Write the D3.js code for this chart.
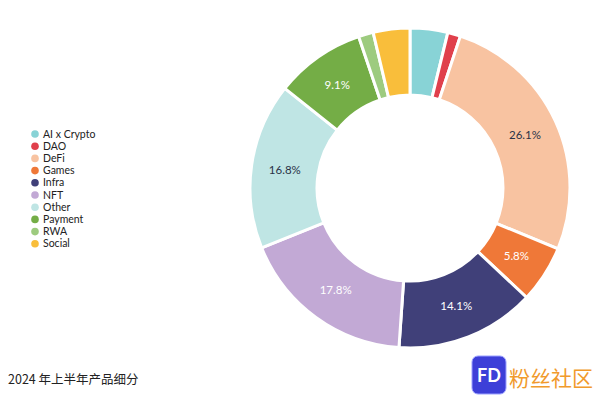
<!DOCTYPE html>
<html>
<head>
<meta charset="utf-8">
<script src="https://cdn.jsdelivr.net/npm/d3@7"></script>
<style>
  body { margin: 0; background: #fff; }
  svg text { font-family: Lato, "Noto Sans", sans-serif; }
</style>
</head>
<body>
<div id="viz"></div>
<script>
// slice names, values (percent) and colours
const categories = ["AI x Crypto", "DAO", "DeFi", "Games", "Infra", "NFT", "Other", "Payment", "RWA", "Social"];
const values = [3.8, 1.3, 26.1, 5.8, 14.1, 17.8, 16.8, 9.1, 1.5, 3.7];
const colors = ["#88d3d6", "#e0404c", "#f8c3a1", "#ef7838", "#404079", "#c2a9d5", "#bfe5e4", "#74ad46", "#9dcb7f", "#f9be3b"];
const labelColors = ["#fff", "#fff", "#2a3347", "#fff", "#fff", "#fff", "#2a3347", "#fff", "#fff", "#fff"];
const title = "2024 年上半年产品细分";

const width = 600, height = 399;
const cx = 410, cy = 188, outerR = 160, innerR = 93;

const svg = d3.select("#viz")
    .append("svg")
    .attr("width", width)
    .attr("height", height);

const data = categories.map((c, i) => ({ name: c, value: values[i], color: colors[i], lc: labelColors[i] }));

const pie = d3.pie()
    .value((d) => d.value)
    .sort(null);

const arc = d3.arc()
    .innerRadius(innerR)
    .outerRadius(outerR);

const g = svg.append("g")
    .attr("transform", `translate(${cx},${cy})`);

const arcs = pie(data);

g.selectAll("path")
    .data(arcs)
    .enter()
    .append("path")
    .attr("d", arc)
    .attr("fill", (d) => d.data.color)
    .attr("stroke", "#fff")
    .attr("stroke-width", 3);

// only the bigger slices get a label
g.selectAll(".lbl")
    .data(arcs.filter((d) => d.data.value >= 5))
    .enter()
    .append("text")
    .attr("class", "lbl")
    .attr("transform", (d) => `translate(${arc.centroid(d)})`)
    .attr("text-anchor", "middle")
    .attr("dy", "0.35em")
    .attr("font-size", 11.5)
    .attr("fill", (d) => d.data.lc)
    .text((d) => d.data.value.toFixed(1) + "%");

// legend
const legend = svg.append("g")
    .attr("transform", "translate(35,134)");

const item = legend.selectAll("g")
    .data(data)
    .enter()
    .append("g")
    .attr("transform", (d, i) => `translate(0,${i * 12.2})`);

item.append("circle")
    .attr("r", 3.8)
    .attr("fill", (d) => d.color);

item.append("text")
    .attr("x", 8)
    .attr("dy", "0.35em")
    .attr("font-size", 10.5)
    .attr("fill", "#222")
    .text((d) => d.name);

// title
svg.append("text")
    .attr("x", 8)
    .attr("y", 384)
    .attr("font-size", 12.5)
    .attr("fill", "#222")
    .style("font-family", "'Noto Sans CJK SC', sans-serif")
    .text(title);

// watermark
const wm = svg.append("g");
wm.append("rect")
    .attr("x", 472).attr("y", 356)
    .attr("width", 34).attr("height", 38)
    .attr("rx", 6)
    .attr("fill", "#3d3fd8")
    .attr("stroke", "#9aa0ff")
    .attr("stroke-width", 1);
wm.append("text")
    .attr("x", 489).attr("y", 382)
    .attr("text-anchor", "middle")
    .attr("font-size", 18)
    .attr("font-weight", "bold")
    .attr("fill", "#fff")
    .text("FD");
wm.append("text")
    .attr("x", 509).attr("y", 386)
    .attr("font-size", 21)
    .attr("fill", "#f19a2c")
    .style("font-family", "'Noto Sans CJK SC', sans-serif")
    .text("粉丝社区");
</script>
</body>
</html>
